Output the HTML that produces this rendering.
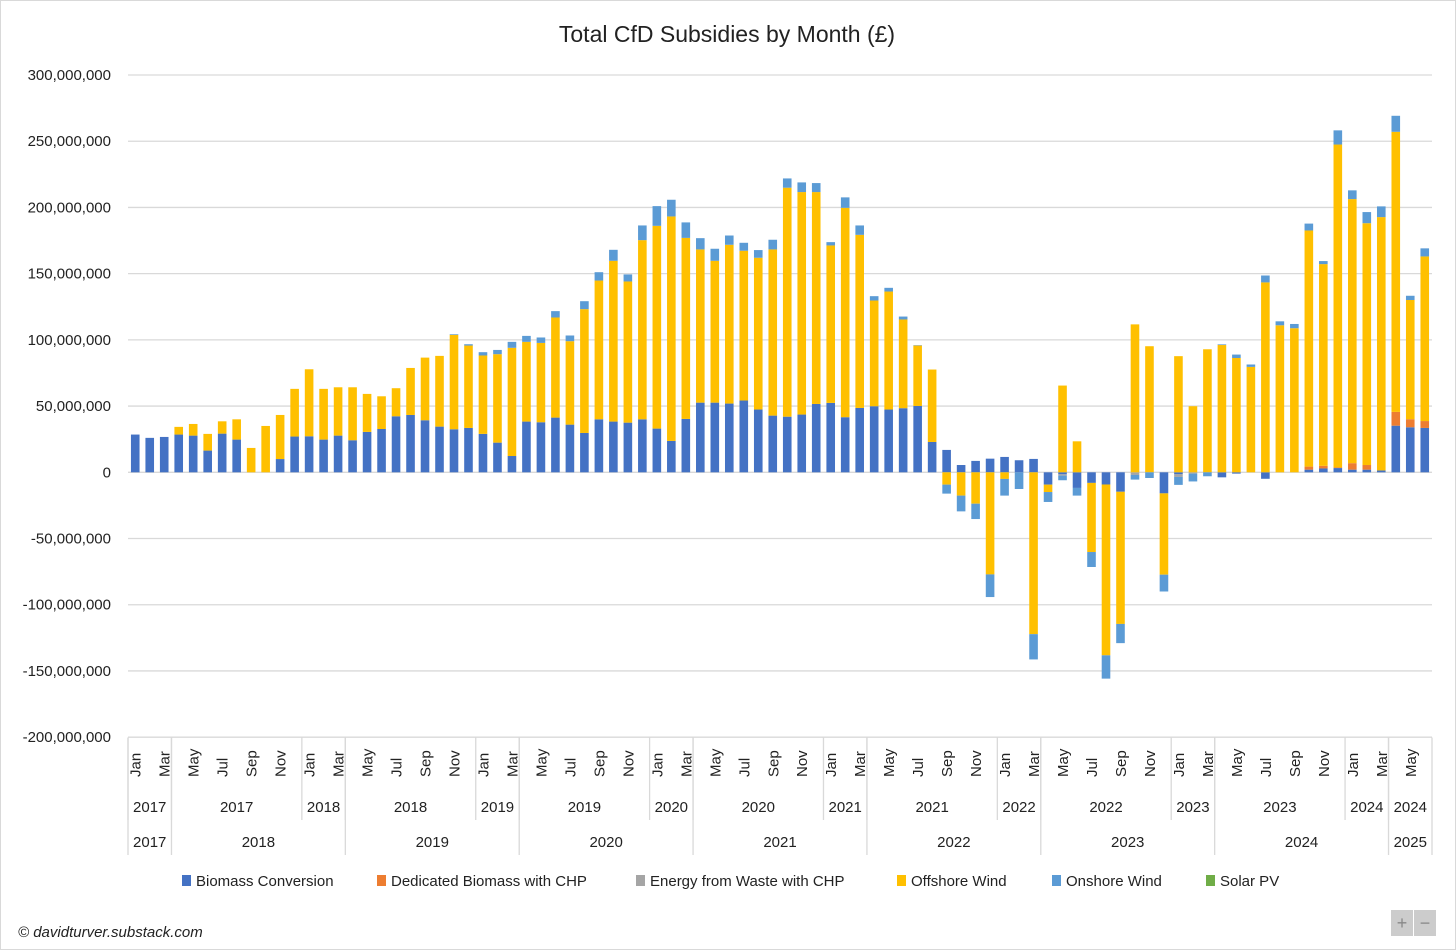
<!DOCTYPE html>
<html><head><meta charset="utf-8"><style>
body{margin:0;background:#fff;}
svg{display:block;font-family:"Liberation Sans",sans-serif;}
</style></head><body>
<svg id="chart" width="1456" height="950">
<rect x="0.5" y="0.5" width="1455" height="949" fill="#fff" stroke="#d9d9d9"/>
<text x="727" y="42" text-anchor="middle" font-size="23" fill="#222">Total CfD Subsidies by Month (£)</text>
<g id="grid"></g><g id="bars"></g><g id="xaxis"></g>
<g font-size="15" fill="#222">
<rect x="182" y="875" width="9" height="11" fill="#4472c4"/><text x="196" y="886">Biomass Conversion</text>
<rect x="377" y="875" width="9" height="11" fill="#ed7d31"/><text x="391" y="886">Dedicated Biomass with CHP</text>
<rect x="636" y="875" width="9" height="11" fill="#a5a5a5"/><text x="650" y="886">Energy from Waste with CHP</text>
<rect x="897" y="875" width="9" height="11" fill="#ffc000"/><text x="911" y="886">Offshore Wind</text>
<rect x="1052" y="875" width="9" height="11" fill="#5b9bd5"/><text x="1066" y="886">Onshore Wind</text>
<rect x="1206" y="875" width="9" height="11" fill="#70ad47"/><text x="1220" y="886">Solar PV</text>
</g>
<text x="18" y="937" font-size="15" font-style="italic" fill="#222">© davidturver.substack.com</text>
<g>
<rect x="1391" y="910" width="22" height="26" fill="#ccc"/>
<rect x="1414" y="910" width="22" height="26" fill="#ccc"/>
<text x="1402" y="929" text-anchor="middle" font-size="18" fill="#888">+</text>
<text x="1425" y="929" text-anchor="middle" font-size="18" fill="#888">−</text>
</g>
</svg>
<script>
const monthNames=["Jan","Feb","Mar","Apr","May","Jun","Jul","Aug","Sep","Oct","Nov","Dec"];
const yTicks=[300,250,200,150,100,50,0,-50,-100,-150,-200];
const biomass=[28.5,26,26.7,28.5,27.7,16.4,29.2,24.7,0,0,10,27,27.2,24.7,27.7,24.2,30.5,32.7,42.3,43.3,39.3,34.5,32.5,33.5,29,22.4,12.3,38.3,37.8,41.3,36,29.7,40,38.3,37.5,40,33,23.7,40.3,52.6,52.6,51.9,54.2,47.4,42.8,42,43.6,51.6,52.4,41.6,48.6,49.9,47.4,48.4,50.1,22.9,16.9,5.5,8.6,10.3,11.6,9.1,10.1,-9.3,-1.5,-11.8,-8,-9.2,-14.7,0,0,-15.9,-1.5,0,0,-3.8,-1,0,-4.9,0,0,2,2.9,3.2,2,2,1.4,35.2,34,33.5];
const dedicated=[0,0,0,0,0,0,0,0,0,0,0,0,0,0,0,0,0,0,0,0,0,0,0,0,0,0,0,0,0,0,0,0,0,0,0,0,0,0,0,0,0,0,0,0,0,0,0,0,0,0,0,0,0,0,0,0,0,0,0,0,0,0,0,0,0,0,0,0,0,0,0,0,0,0,0,0,0,0,0,0,0,2.3,2,0.5,4.9,3.5,0,10.4,6.1,5.2];
const waste=[0,0,0,0,0,0,0,0,0,0,0,0,0,0,0,0,0,0,0,0,0,0,0,0,0,0,0,0,0,0,0,0,0,0,0,0,0,0,0,0,0,0,0,0,0,0,0,0,0,0,0,0,0,0,0,0,0,0,0,0,0,0,0,0,-1,0,0,0,0,-2,0,0,-2,-1,0,0,0,0,0,0,0,0,0,0,0,0,0,0,0,0];
const offshore=[0,0,0,5.8,8.8,12.6,9.3,15.3,18.4,35,33.3,36,50.6,38.3,36.5,40,28.7,24.7,21.2,35.5,47.3,53.4,71.3,62.2,59.2,66.8,81.7,60.2,59.9,75.6,63,93.5,104.8,121.4,106.6,135.3,153.1,169.5,136.7,115.7,107.1,119.9,113.1,114.6,125.5,172.9,168,160,118.9,158.1,130.7,79.8,89.1,67,45.6,54.7,-9.3,-17.6,-23.7,-77.1,-5,0,-122.2,-5.6,65.5,23.4,-52.2,-129,-99.8,111.7,95.2,-61.4,87.7,49.9,92.9,96.1,86.3,79.6,143.4,111,108.8,178.3,152.3,243.8,199.4,182.6,191.3,211.5,90,124.3];
const onshore=[0,0,0,0,0,0,0,0,0,0,0,0,0,0,0,0,0,0,0,0,0,0,0.5,1,2.5,3.2,4.5,4.5,4.1,4.8,4.3,6,6.3,8.3,5.3,11.1,14.9,12.6,11.7,8.5,9.1,7,6,5.8,7.3,7,7.3,6.8,2.5,7.9,7.1,3.3,2.8,2.2,0.3,0,-6.8,-11.9,-11.6,-17.1,-12.6,-12.6,-19.1,-7.5,-3.5,-5.8,-11.3,-17.6,-14.5,-3.5,-4.3,-12.7,-6,-5.9,-3,0.5,2.6,1.8,5.2,3,3.2,5.2,2.3,10.7,6.6,8.4,8.1,12.1,3.2,6.1];
const solar=new Array(90).fill(0);
const seriesList=[[biomass,"#4472c4","biomass"],[dedicated,"#ed7d31","dedicated-biomass"],[waste,"#a5a5a5","energy-from-waste"],[offshore,"#ffc000","offshore-wind"],[onshore,"#5b9bd5","onshore-wind"],[solar,"#70ad47","solar-pv"]];

const NS="http://www.w3.org/2000/svg";
const X0=128,X1=1432,Y0=472.3,PX=397.3/300;
const N=biomass.length, step=(X1-X0)/N, bw=8.6;
const yS=v=>Y0-v*PX;
const xC=i=>X0+step*(i+0.5);
function mk(tag,attrs,parent){const e=document.createElementNS(NS,tag);for(const k in attrs)e.setAttribute(k,attrs[k]);parent.appendChild(e);return e;}
const grid=document.getElementById("grid"),bars=document.getElementById("bars"),xa=document.getElementById("xaxis");
yTicks.forEach(t=>{
  const l=mk("line",{x1:X0,x2:X1,y1:yS(t),y2:yS(t),stroke:"#d9d9d9","stroke-width":1.3},grid);
  
  
  const tx=mk("text",{x:111,y:yS(t)+5,"text-anchor":"end","font-size":15,fill:"#222"},grid);
  tx.textContent=(t*1e6).toLocaleString("en-US");
  
  
});
for(let i=0;i<N;i++){
  let pos=0,neg=0;
  seriesList.forEach(([arr,col,nm])=>{
    const v=arr[i]; if(!v) return;
    let a,b; if(v>0){a=pos;b=pos+v;pos=b;}else{a=neg;b=neg+v;neg=b;}
    const r=mk("rect",{x:xC(i)-bw/2,y:Math.min(yS(a),yS(b)),width:bw,height:Math.abs(yS(a)-yS(b)),fill:col},bars);
    
    
  });
}
const axTop=737.5;
function vline(x,y2){const l=mk("line",{x1:x,x2:x,y1:axTop,y2:y2,stroke:"#d9d9d9","stroke-width":1.3},xa);}
for(let i=0;i<N;i+=2){
  const t=mk("text",{transform:`translate(${xC(i)+5.5},777) rotate(-90)`,"font-size":15,fill:"#222"},xa);
  t.textContent=monthNames[i%12];
  
  
}
const row2=[];for(let y=0;y<8;y++){row2.push([y*12,y*12+3,2017+y]);row2.push([y*12+3,Math.min(y*12+12,N),2017+y]);}
row2.forEach(([a,b,lab])=>{if(a>=N)return;vline(X0+step*a,820);
  const t=mk("text",{x:X0+step*(a+b)/2,y:812,"text-anchor":"middle","font-size":15,fill:"#222"},xa);t.textContent=lab;
  
  });
const row3=[[0,3,2017]];for(let y=0;y<7;y++)row3.push([3+12*y,15+12*y,2018+y]);row3.push([87,90,2025]);
row3.forEach(([a,b,lab])=>{vline(X0+step*a,855);
  const t=mk("text",{x:X0+step*(a+b)/2,y:847,"text-anchor":"middle","font-size":15,fill:"#222"},xa);t.textContent=lab;
  
  });
vline(X1,855);
</script>
</body></html>
